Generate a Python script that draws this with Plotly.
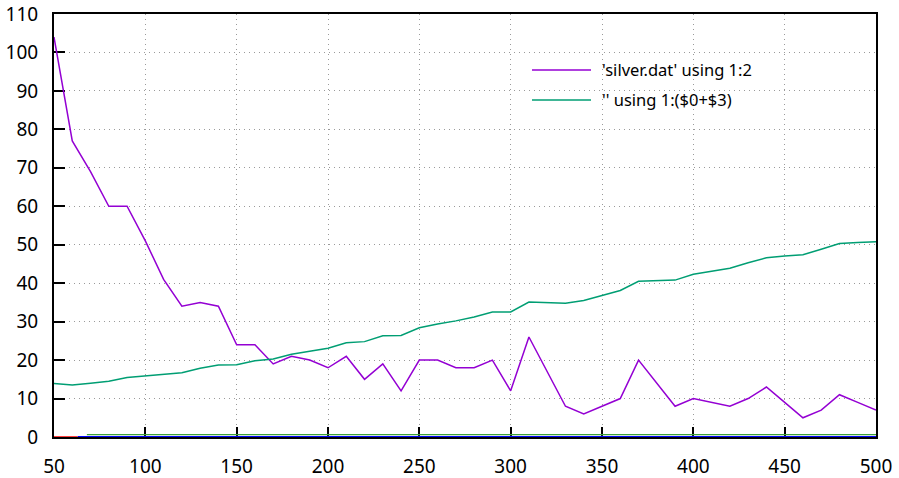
import plotly.graph_objects as go

x_vals = [50, 60, 70, 80, 90, 100, 110, 120, 130, 140, 150, 160, 170, 180, 190, 200,
          210, 220, 230, 240, 250, 260, 270, 280, 290, 300, 310, 320, 330, 340, 350,
          360, 370, 380, 390, 400, 410, 420, 430, 440, 450, 460, 470, 480, 490, 500]
silver = [104, 77, 69, 60, 60, 51, 41, 34, 35, 34, 24, 24, 19, 21, 20, 18,
          21, 15, 19, 12, 20, 20, 18, 18, 20, 12, 26, 17, 8, 6, 8,
          10, 20, 14, 8, 10, 9, 8, 10, 13, 9, 5, 7, 11, 9, 7]
cumul = [13.9, 13.5, 14.0, 14.5, 15.5, 15.9, 16.2, 16.7, 17.9, 18.7, 18.8, 19.8, 20.3, 21.5, 22.3, 23.1,
         24.5, 24.8, 26.3, 26.4, 28.4, 29.4, 30.2, 31.2, 32.5, 32.5, 35.1, 35.0, 34.8, 35.5, 36.8,
         38.1, 40.5, 40.7, 40.8, 42.3, 43.1, 43.9, 45.3, 46.6, 47.1, 47.4, 48.8, 50.3, 50.6, 50.8]

# faint series drawn along the zero line
red_x = [50, 63]
red_y = [0, 0]
blue_x = [63, 500]
blue_y = [0, 0]
green_x = [68, 500]
green_y = [0.6, 0.6]

x_ticks = [50, 100, 150, 200, 250, 300, 350, 400, 450, 500]
y_ticks = [0, 10, 20, 30, 40, 50, 60, 70, 80, 90, 100, 110]

labels = ["'silver.dat' using 1:2", "'' using 1:($0+$3)"]
colors = ["#9400d3", "#009e73"]

fig = go.Figure()
fig.add_trace(go.Scatter(x=red_x, y=red_y, mode="lines", line=dict(color="#ff0000", width=1.5),
                         showlegend=False, hoverinfo="skip", cliponaxis=False))
fig.add_trace(go.Scatter(x=blue_x, y=blue_y, mode="lines", line=dict(color="#0000ff", width=2),
                         showlegend=False, hoverinfo="skip", cliponaxis=False))
fig.add_trace(go.Scatter(x=green_x, y=green_y, mode="lines", line=dict(color="#3ca03c", width=1.2),
                         showlegend=False, hoverinfo="skip", cliponaxis=False))
fig.add_trace(go.Scatter(x=x_vals, y=silver, mode="lines", name=labels[0],
                         line=dict(color=colors[0], width=1.5), showlegend=False))
fig.add_trace(go.Scatter(x=x_vals, y=cumul, mode="lines", name=labels[1],
                         line=dict(color=colors[1], width=1.5), showlegend=False))

tick_font = dict(family="Noto Sans, DejaVu Sans, sans-serif", size=19, color="#000000")
leg_font = dict(family="Noto Sans, DejaVu Sans, sans-serif", size=16.5, color="#000000")

# key (legend) drawn in the upper right like the original
W, H = 899, 478
L, R, T, B = 54, 23, 14, 41
pw, ph = W - L - R, H - T - B
def px(xp):
    return (xp - L) / pw
def py(yp):
    return 1 - (yp - T) / ph

shapes = []
annotations = []
for i, (lab, col) in enumerate(zip(labels, colors)):
    yrow = 70 + 30 * i
    shapes.append(dict(type="line", xref="paper", yref="paper",
                       x0=px(532), x1=px(591), y0=py(yrow), y1=py(yrow),
                       line=dict(color=col, width=1.5)))
    annotations.append(dict(xref="paper", yref="paper", x=px(600), y=py(yrow),
                            xanchor="left", yanchor="middle", text=lab,
                            showarrow=False, font=leg_font))

axis_common = dict(ticks="inside", tickwidth=1.5, tickcolor="black",
                   showline=True, linecolor="black", linewidth=2, mirror=True,
                   showgrid=True, gridcolor="#9a9a9a", griddash="1px,4px", gridwidth=1,
                   zeroline=False, automargin=False, tickfont=tick_font,
                   layer="below traces")

fig.update_layout(
    width=W, height=H,
    margin=dict(l=L, r=R, t=T, b=B),
    paper_bgcolor="white", plot_bgcolor="white",
    font=tick_font,
    showlegend=False,
    shapes=shapes,
    annotations=annotations,
    xaxis=dict(range=[50, 500], tickvals=x_ticks, ticktext=[str(v) for v in x_ticks],
               ticklen=10, ticklabelstandoff=11, **axis_common),
    yaxis=dict(range=[0, 110], tickvals=y_ticks, ticktext=[str(v) for v in y_ticks],
               ticklen=11, ticklabelstandoff=10, **axis_common),
)

fig.write_html("out.html", config={"displayModeBar": False},
               post_script="document.body.style.margin='0';document.body.style.overflow='hidden';")
